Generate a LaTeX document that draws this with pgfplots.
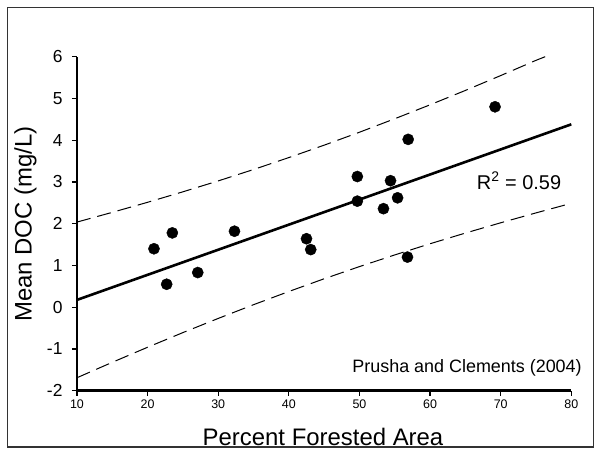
\documentclass[border=0pt]{standalone}
\usepackage{pgfplots}
\pgfplotsset{compat=1.18}
\usepackage{fontspec}
\setmainfont{Liberation Sans}
\newcommand{\xt}{\fontsize{12.5}{14}\selectfont}
\newcommand{\yt}{\fontsize{17.5}{20}\selectfont}
\begin{document}
\begin{tikzpicture}
\useasboundingbox (0,0) rectangle (596bp,449bp);
\draw[line width=1.6bp, black!80] (7.5bp,2.2bp) rectangle (593.5bp,441.5bp);
\begin{axis}[
  at={(77bp,58.3bp)}, anchor=south west,
  scale only axis, width=494.3bp, height=334bp,
  xmin=10, xmax=80, ymin=-2, ymax=6,
  axis x line=bottom, axis y line=left,
  axis line style={line width=2.8bp, -},
  xtick={10,20,...,80}, ytick={-2,-1,...,6},
  xticklabels={{\xt 10},{\xt 20},{\xt 30},{\xt 40},{\xt 50},{\xt 60},{\xt 70},{\xt 80}},
  yticklabels={{\yt -2},{\yt -1},{\yt 0},{\yt 1},{\yt 2},{\yt 3},{\yt 4},{\yt 5},{\yt 6}},
  tick align=outside, major tick length=5bp,
  tick style={line width=1.2bp, black},
  x tick label style={yshift=-1bp},
  y tick label style={xshift=-6bp},
  xlabel={Percent Forested Area},
  ylabel={Mean DOC (mg/L)},
  xlabel style={at={(axis description cs:0.4977,-0.1626)}, anchor=base, font=\fontsize{24}{28}\selectfont},
  ylabel style={at={(axis description cs:-0.0916,0.4985)}, anchor=base, font=\fontsize{24}{28}\selectfont},
  clip=false,
]
% upper prediction band
\addplot[black, line width=1bp, dash pattern=on 14bp off 7bp] coordinates {
(10,2.039) (15,2.272) (20,2.513) (25,2.764) (30,3.025) (35,3.298) (40,3.584)
(45,3.881) (50,4.191) (55,4.514) (60,4.848) (65,5.192) (70,5.548) (75,5.913) (76.3,6.0)};
% lower prediction band
\addplot[black, line width=1bp, dash pattern=on 14bp off 7bp] coordinates {
(10,-1.689) (15,-1.320) (20,-0.959) (25,-0.608) (30,-0.269) (35,0.060) (40,0.376)
(45,0.681) (50,0.973) (55,1.252) (60,1.520) (65,1.776) (70,2.022) (75,2.259) (79.6,2.47)};
% regression line
\addplot[black, line width=2.6bp] coordinates {(10,0.175) (80,4.38)};
% data
\addplot[only marks, mark=*, mark size=5.6bp, black] coordinates {
(20.9,1.40) (23.5,1.78) (22.7,0.55) (27.1,0.83) (32.3,1.82)
(42.5,1.64) (43.1,1.38) (49.7,3.13) (49.7,2.54) (53.4,2.36)
(54.4,3.03) (55.4,2.62) (56.8,1.20) (56.9,4.02) (69.2,4.80)};
\node[anchor=base, font=\fontsize{20}{24}\selectfont] at (axis cs:72.6,2.83) {R\textsuperscript{2} = 0.59};
\node[anchor=base east, font=\fontsize{18}{22}\selectfont, inner sep=0pt] at (axis cs:81.5,-1.557) {Prusha and Clements (2004)};
\end{axis}
\end{tikzpicture}
\end{document}
